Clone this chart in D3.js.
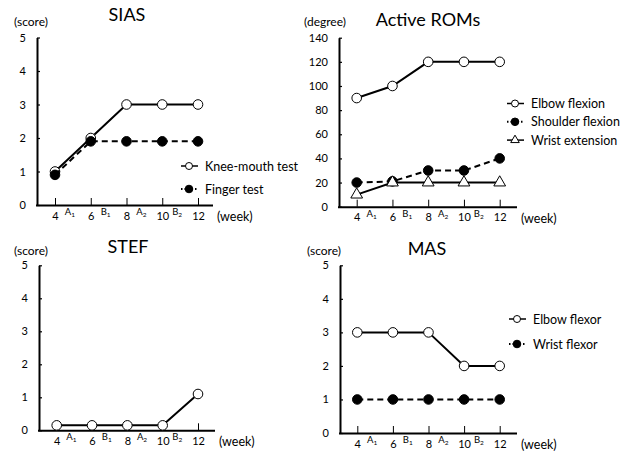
<!DOCTYPE html>
<html>
<head>
<meta charset="utf-8">
<script src="https://cdn.jsdelivr.net/npm/d3@7"></script>
<style>
  body { margin: 0; background: #fff; }
  svg { font-family: Lato, "Open Sans", sans-serif; }
</style>
</head>
<body>
<svg id="chart" width="628" height="454"></svg>
<script>
// data
const weeks = [4, 6, 8, 10, 12];
const phaseLabels = [["A", "1"], ["B", "1"], ["A", "2"], ["B", "2"]];
const phaseWeeks = [5, 7, 9, 11];

const kneeMouth = [1, 2, 3, 3, 3];
const fingerTest = [0.9, 1.9, 1.9, 1.9, 1.9];

const elbowFlexion = [90, 100, 120, 120, 120];
const shoulderFlexion = [20, 21, 30, 30, 40];
const wristExtension = [10, 20, 20, 20, 20];

const stefScore = [0.15, 0.15, 0.15, 0.15, 1.1];

const elbowFlexor = [3, 3, 3, 2, 2];
const wristFlexor = [1, 1, 1, 1, 1];

const scoreTicks = [0, 1, 2, 3, 4, 5];
const degreeTicks = [0, 20, 40, 60, 80, 100, 120, 140];

// panels
const panels = [
  {title: 'SIAS', unit: '(score)', ax: 37, xEnd: 213, x4: 55, x12: 198, yTop: 37.5, yBot: 205,
   yMax: 5, yTicks: scoreTicks, titleX: 127, titleY: 21, unitX: 31, unitY: 26,
   series: [
     {name: 'Knee-mouth  test', values: kneeMouth, marker: 'open', dash: null},
     {name: 'Finger test', values: fingerTest, marker: 'filled', dash: '6,4'}
   ],
   legend: {x: 181, y: 166, gap: 23}},
  {title: 'Active ROMs', unit: '(degree)', ax: 339, xEnd: 517, x4: 356.7, x12: 499.7, yTop: 37.7, yBot: 206.7,
   yMax: 140, yTicks: degreeTicks, titleX: 428, titleY: 26, unitX: 325, unitY: 26,
   series: [
     {name: 'Elbow flexion', values: elbowFlexion, marker: 'open', dash: null},
     {name: 'Shoulder flexion', values: shoulderFlexion, marker: 'filled', dash: '6,4'},
     {name: 'Wrist extension', values: wristExtension, marker: 'triangle', dash: null}
   ],
   legend: {x: 507, y: 103.5, gap: 18.3}},
  {title: 'STEF', unit: '(score)', ax: 39, xEnd: 215, x4: 56.7, x12: 198, yTop: 265.3, yBot: 430.3,
   yMax: 5, yTicks: scoreTicks, titleX: 128, titleY: 253, unitX: 31, unitY: 255,
   series: [
     {name: null, values: stefScore, marker: 'open', dash: null}
   ],
   legend: null},
  {title: 'MAS', unit: '(score)', ax: 340, xEnd: 517, x4: 357.3, x12: 499.7, yTop: 265.3, yBot: 433,
   yMax: 5, yTicks: scoreTicks, titleX: 427, titleY: 255, unitX: 324, unitY: 255,
   series: [
     {name: 'Elbow flexor', values: elbowFlexor, marker: 'open', dash: null},
     {name: 'Wrist flexor', values: wristFlexor, marker: 'filled', dash: '6,4'}
   ],
   legend: {x: 509, y: 319, gap: 25}}
];

const svg = d3.select('#chart');

function drawMarker(g, type, cx, cy, r) {
  if (type === 'triangle') {
    g.append('path')
      .attr('d', d3.symbol(d3.symbolTriangle, r * r * 2.6)())
      .attr('transform', `translate(${cx},${cy})`)
      .attr('fill', '#fff').attr('stroke', '#000').attr('stroke-width', 1);
  } else {
    g.append('circle')
      .attr('cx', cx).attr('cy', cy).attr('r', r)
      .attr('fill', type === 'filled' ? '#000' : '#fff')
      .attr('stroke', '#000').attr('stroke-width', 1);
  }
}

panels.forEach(p => {
  const g = svg.append('g');

  const x = d3.scaleLinear()
    .domain([4, 12])
    .range([p.x4, p.x12]);
  const y = d3.scaleLinear()
    .domain([0, p.yMax])
    .range([p.yBot, p.yTop]);

  // title + unit
  g.append('text').attr('x', p.titleX).attr('y', p.titleY)
    .attr('text-anchor', 'middle').style('font-size', '18px').text(p.title);
  g.append('text').attr('x', p.unitX).attr('y', p.unitY)
    .attr('text-anchor', 'middle').style('font-size', '12px').text(p.unit);

  // y axis
  const yAxis = g.append('g')
    .attr('transform', `translate(${p.ax},0)`)
    .call(d3.axisLeft(y).tickValues(p.yTicks).tickFormat(d3.format('d'))
      .tickSizeInner(-3).tickSizeOuter(0).tickPadding(11));
  yAxis.select('.domain').attr('stroke-width', 2);
  yAxis.selectAll('.tick line').attr('stroke-width', 1.2);
  yAxis.selectAll('text').style('font-size', '11px').style('font-family', 'Lato, sans-serif');

  // x axis
  const xAxis = g.append('g')
    .attr('transform', `translate(0,${p.yBot})`)
    .call(d3.axisBottom(x).tickValues(weeks).tickSizeInner(-7).tickSizeOuter(0).tickPadding(7));
  xAxis.select('.domain').attr('d', `M${p.ax - 1},0.5H${p.xEnd}`).attr('stroke-width', 2);
  xAxis.selectAll('.tick line').attr('stroke-width', 1);
  xAxis.selectAll('text').style('font-size', '11px').style('font-family', 'Lato, sans-serif');

  // phase labels
  phaseWeeks.forEach((w, i) => {
    const t = g.append('text')
      .attr('x', x(w) - 3).attr('y', p.yBot + 10)
      .attr('text-anchor', 'middle')
      .style('font-size', '9.5px');
    t.append('tspan').text(phaseLabels[i][0]);
    t.append('tspan').attr('dy', 2).style('font-size', '6.5px').text(phaseLabels[i][1]);
  });

  g.append('text').attr('x', p.xEnd + 4).attr('y', p.yBot + 16)
    .style('font-size', '12.5px').text('(week)');

  // lines + markers
  p.series.forEach(s => {
    const pts = weeks.map((w, i) => ({w: w, v: s.values[i]}));
    g.append('path')
      .datum(pts)
      .attr('fill', 'none')
      .attr('stroke', '#000')
      .attr('stroke-width', 2)
      .attr('stroke-dasharray', s.dash)
      .attr('d', d3.line().x(d => x(d.w)).y(d => y(d.v)));
    pts.forEach(d => drawMarker(g, s.marker, x(d.w), y(d.v), s.marker === 'filled' ? 4.8 : 4.8));
  });

  // legend
  if (p.legend) {
    p.series.forEach((s, i) => {
      const ly = p.legend.y + i * p.legend.gap;
      const lx = p.legend.x;
      g.append('line')
        .attr('x1', lx).attr('x2', lx + 17)
        .attr('y1', ly).attr('y2', ly)
        .attr('stroke', '#000')
        .attr('stroke-width', s.dash ? 2 : 1.5)
        .attr('stroke-dasharray', s.dash ? '1.5,2' : null);
      drawMarker(g, s.marker, lx + 8, ly, s.marker === 'filled' ? 3.8 : 3.5);
      g.append('text').attr('x', lx + 24).attr('y', ly + 4.5)
        .style('font-size', '12.5px').text(s.name);
    });
  }
});
</script>
</body>
</html>
